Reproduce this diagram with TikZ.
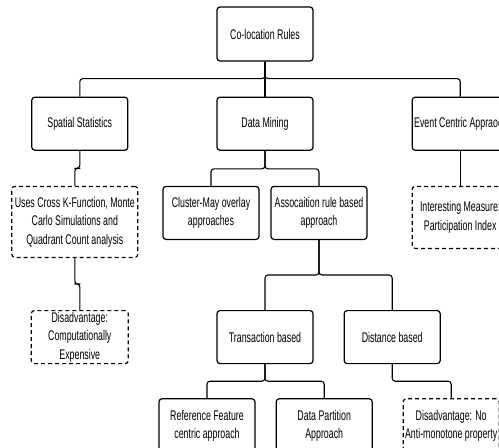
\documentclass[tikz,border=0pt]{standalone}
\usepackage{fontspec}
\setmainfont[FakeStretch=0.63]{Liberation Sans}
\usetikzlibrary{positioning, calc}
\tikzset{
    rule/.style={
        rectangle,
        draw=black,
        line width=1.2pt,
        rounded corners=3pt,
        minimum width=96pt,
        minimum height=53pt,
        fill=white,
        align=center,
        inner sep=1pt,
        font=\fontsize{14}{18.5}\selectfont
    },
    note/.style={
        rule,
        dash pattern=on 4pt off 3pt
    },
    link/.style={
        draw=black,
        line width=1.1pt,
        rounded corners=3pt
    }
}
\begin{document}
\begin{tikzpicture}[x=1pt, y=-1pt, node distance=35pt and 88pt]

\clip (0,0) rectangle (499,448);

\node[rule, minimum height=54pt] (root) at (265,34) {Co-location Rules};
\node[rule, below=35pt of root] (dm) {Data Mining};
\node[rule, left=of dm] (ss) {Spatial Statistics};
\node[rule, right=98pt of dm] (ev) {\makebox[92pt][l]{Event Centric Appraoch}};

\node[note, below=of ss, xshift=-5pt, minimum width=126pt, minimum height=71pt] (us) {Uses Cross K-Function, Monte\\Carlo Simulations and\\Quadrant Count analysis};
\node[note, below=52pt of us, xshift=5pt, minimum width=97pt] (cd) {Disadvantage:\\Computationally\\Expensive};
\node[note, below=of ev, minimum height=62pt] (im) {Interesting Measure:\\Participation Index};

\node[rule, below=of dm, xshift=-54pt] (cl) {Cluster-May overlay\\approaches};
\node[rule, below=of dm, xshift=54pt] (as) {Assocaition rule based\\approach};

\node[rule, below=70pt of as, xshift=-54pt] (tb) {Transaction based};
\node[rule, right=30pt of tb] (db) {Distance based};

\node[rule, below=34pt of tb, xshift=-58pt, minimum height=54pt] (rf) {Reference Feature\\centric approach};
\node[rule, right=20pt of rf, minimum height=54pt] (dp) {Data Partition\\Approach};
\node[note, below=34pt of db, xshift=59pt, minimum height=54pt] (dn) {Disadvantage: No\\Anti-monotone property};

% top level
\draw[link] (root) -- (dm);
\draw[link] (root.south) -- ++(0,17) -| (ss.north);
\draw[link] (root.south) -- ++(0,17) -| (ev.north);

% spatial statistics
\draw[link] (ss.south) |- ($(ss.south)!0.5!(us.north)$) -| (us.north);
\draw[link] (us.south) |- ($(us.south)!0.5!(cd.north)$) -| (cd.north);

% event centric
\draw[link] (ev) -- (im);

% data mining
\draw[link] (dm.south) -- ++(0,18) -| (cl.north);
\draw[link] (dm.south) -- ++(0,18) -| (as.north);
\draw[link] (as.south) -- ++(0,35) -| (tb.north);
\draw[link] (as.south) -- ++(0,35) -| (db.north);
\draw[link] (tb.south) -- ++(0,17) -| (rf.north);
\draw[link] (tb.south) -- ++(0,17) -| (dp.north);
\draw[link] (db.south) -- ++(0,17) -| (dn.north);

\end{tikzpicture}
\end{document}
